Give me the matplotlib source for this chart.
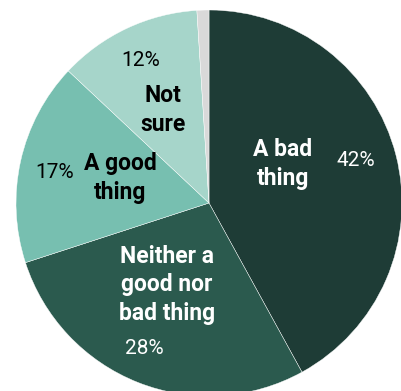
import matplotlib.pyplot as plt

# Survey shares, clockwise from the top
labels = ["A bad\nthing", "Neither a\ngood nor\nbad thing", "A good\nthing", "Not\nsure", ""]
shares = [42, 28, 17, 12, 1]
colors = ["#1e3c36", "#2b5a4e", "#77bfb0", "#a6d5ca", "#d9d9d9"]
text_colors = ["white", "white", "black", "black", None]

# label anchors in pixels (x from left, y from top) for name and percent
name_pos = [(283, 164), (167, 285), (120, 178), (163, 110)]
pct_pos = [(356, 160), (144, 349), (55, 173), (141, 60)]

W, H = 402, 391
CX, CY, R = 209, 203, 193

fig = plt.figure(figsize=(W / 100, H / 100), dpi=100)
ax = fig.add_axes([(CX - R) / W, (H - CY - R) / H, 2 * R / W, 2 * R / H])
ax.pie(shares, colors=colors, startangle=90, counterclock=False,
       radius=1, center=(0, 0),
       wedgeprops=dict(edgecolor="white", linewidth=0.3))
ax.set_xlim(-1, 1)
ax.set_ylim(-1, 1)
ax.set_aspect("auto")
ax.axis("off")


def to_data(px, py):
    return (px - CX) / R, (CY - py) / R


fam = ["Roboto", "DejaVu Sans"]
for i in range(4):
    x, y = to_data(*name_pos[i])
    ax.text(x, y, labels[i], ha="center", va="center", color=text_colors[i],
            fontsize=16.5, fontweight="bold", family=fam, linespacing=1.32)
    x, y = to_data(*pct_pos[i])
    ax.text(x, y, f"{shares[i]}%", ha="center", va="center",
            color=text_colors[i], fontsize=15, family=fam)

fig.savefig("out.png", dpi=100)
